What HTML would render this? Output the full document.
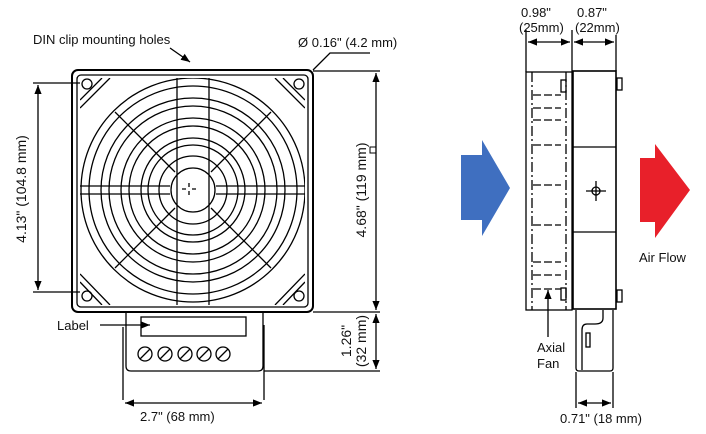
<!DOCTYPE html>
<html><head><meta charset="utf-8"><style>
html,body{margin:0;padding:0;background:#fff}
svg{display:block}
text{font-family:"Liberation Sans",Arial,sans-serif;fill:#111}
</style></head><body>
<svg width="706" height="434" viewBox="0 0 706 434" xmlns="http://www.w3.org/2000/svg">
<defs>
<marker id="a" viewBox="0 0 10 10" refX="10" refY="5" markerWidth="7" markerHeight="7" orient="auto-start-reverse"><path d="M0,1L10,5L0,9z" fill="#000"/></marker>
<clipPath id="sq"><rect x="80" y="78" width="225" height="227" rx="6"/></clipPath>
</defs>
<g fill="none" stroke="#000" stroke-width="1.3">
<rect x="72" y="70" width="241" height="242" rx="6" stroke-width="2"/>
<rect x="77" y="75" width="231" height="232" rx="4"/>
<g clip-path="url(#sq)">
<circle cx="193" cy="190" r="112"/><circle cx="193" cy="190" r="104"/>
<circle cx="193" cy="190" r="92"/><circle cx="193" cy="190" r="84"/>
<circle cx="193" cy="190" r="72"/><circle cx="193" cy="190" r="64"/>
<circle cx="193" cy="190" r="52"/><circle cx="193" cy="190" r="45"/>
<circle cx="193" cy="190" r="34"/><circle cx="193" cy="190" r="22"/>
<line x1="177" y1="78" x2="177" y2="305"/><line x1="209" y1="78" x2="209" y2="305"/>
<line x1="80" y1="186" x2="170" y2="186"/><line x1="80" y1="194" x2="170" y2="194"/>
<line x1="216" y1="186" x2="305" y2="186"/><line x1="216" y1="194" x2="305" y2="194"/>
<line x1="115" y1="112" x2="175" y2="172"/><line x1="271" y1="112" x2="211" y2="172"/>
<line x1="115" y1="268" x2="175" y2="208"/><line x1="271" y1="268" x2="211" y2="208"/>
<path d="M80 100L102 78M80 108L110 78M305 100L283 78M305 108L275 78M80 282L102 305M80 274L110 305M305 282L283 305M305 274L275 305"/>
</g>
<circle cx="87" cy="84" r="5"/><circle cx="299" cy="84" r="5"/><circle cx="87" cy="296" r="5"/><circle cx="299" cy="296" r="5"/>
<path d="M189 183v4M189 191v4M182 189h4M192 189h4"/>
<path d="M126 312V366q0 5 5 5H258q5 0 5-5V312"/>
<line x1="123" y1="327" x2="123" y2="400"/><line x1="264" y1="325" x2="264" y2="400"/>
<rect x="141" y="317" width="105" height="19"/>
<circle cx="145" cy="354" r="7"/><circle cx="165" cy="354" r="7"/><circle cx="185" cy="354" r="7"/><circle cx="204" cy="354" r="7"/><circle cx="223" cy="354" r="7"/>
<path d="M140 359l10-10M160 359l10-10M180 359l10-10M199 359l10-10M218 359l10-10"/>
<line x1="33" y1="83" x2="80" y2="83"/><line x1="33" y1="292" x2="80" y2="292"/>
<line x1="38" y1="85" x2="38" y2="290" marker-start="url(#a)" marker-end="url(#a)"/>
<line x1="313" y1="71" x2="380" y2="71"/><line x1="313" y1="312" x2="380" y2="312"/><line x1="264" y1="371" x2="380" y2="371"/>
<line x1="376" y1="73" x2="376" y2="310" marker-start="url(#a)" marker-end="url(#a)"/>
<line x1="376" y1="314" x2="376" y2="369" marker-start="url(#a)" marker-end="url(#a)"/>
<line x1="125" y1="403" x2="262" y2="403" marker-start="url(#a)" marker-end="url(#a)"/>
<line x1="100" y1="325" x2="150" y2="325" marker-end="url(#a)"/>
<line x1="170" y1="48" x2="190" y2="62" marker-end="url(#a)"/>
<path d="M313 70L330 53H370"/>
<rect x="370" y="147" width="6" height="6" stroke-width="1"/>
<rect x="526" y="72" width="46" height="238"/>
<path d="M532 72V310M566 72V310" stroke-dasharray="10 3 2 3"/>
<rect x="573" y="71" width="43" height="238" stroke-width="1.6"/>
<line x1="573" y1="147" x2="616" y2="147"/><line x1="573" y1="232" x2="616" y2="232"/>
<circle cx="596" cy="191" r="4"/><path d="M586 191h20M596 181v20"/>
<path d="M533 95h28M533 108h28M533 120h28M533 145h28M533 185h28M533 225h28M533 262h28M533 275h28M533 289h28" stroke-dasharray="8 3"/>
<rect x="561" y="80" width="5" height="12"/><rect x="561" y="288" width="5" height="12"/>
<rect x="617" y="78" width="5" height="12"/><rect x="617" y="290" width="5" height="12"/>
<path d="M576 310V368q0 3 3 3H610q3 0 3-3V310"/>
<path d="M603 310v8q0 6-8 6h-8q-5 0-5 6v40"/>
<rect x="586" y="333" width="4" height="14"/>
<line x1="526" y1="30" x2="526" y2="72"/><line x1="572" y1="30" x2="572" y2="72"/><line x1="616" y1="35" x2="616" y2="71"/>
<line x1="528" y1="42" x2="570" y2="42" marker-start="url(#a)" marker-end="url(#a)"/>
<line x1="574" y1="42" x2="614" y2="42" marker-start="url(#a)" marker-end="url(#a)"/>
<line x1="576" y1="372" x2="576" y2="408"/><line x1="613" y1="372" x2="613" y2="408"/>
<line x1="578" y1="403" x2="611" y2="403" marker-start="url(#a)" marker-end="url(#a)"/>
<line x1="548" y1="337" x2="548" y2="290" marker-end="url(#a)"/>
</g>
<path d="M461 155H482V140L510 188L482 236V220H461z" fill="#3f6fc0"/>
<path d="M640 158H655V144L690 190L655 238V222H640z" fill="#e8202a"/>
<g font-size="13">
<text x="33" y="44">DIN clip mounting holes</text>
<text x="298" y="47">Ø 0.16" (4.2 mm)</text>
<text x="57" y="330">Label</text>
<text x="140" y="421">2.7" (68 mm)</text>
<text transform="translate(26,189) rotate(-90)" text-anchor="middle" font-size="14">4.13" (104.8 mm)</text>
<text transform="translate(366,190) rotate(-90)" text-anchor="middle" font-size="14">4.68" (119 mm)</text>
<text transform="translate(351,341) rotate(-90)" text-anchor="middle" font-size="14">1.26"</text>
<text transform="translate(366,341) rotate(-90)" text-anchor="middle" font-size="14">(32 mm)</text>
<text x="521" y="17">0.98"</text><text x="519" y="32">(25mm)</text>
<text x="577" y="17">0.87"</text><text x="575" y="32">(22mm)</text>
<text x="639" y="262">Air Flow</text>
<text x="537" y="352">Axial</text><text x="537" y="368">Fan</text>
<text x="560" y="423">0.71" (18 mm)</text>
</g>
</svg>
</body></html>
